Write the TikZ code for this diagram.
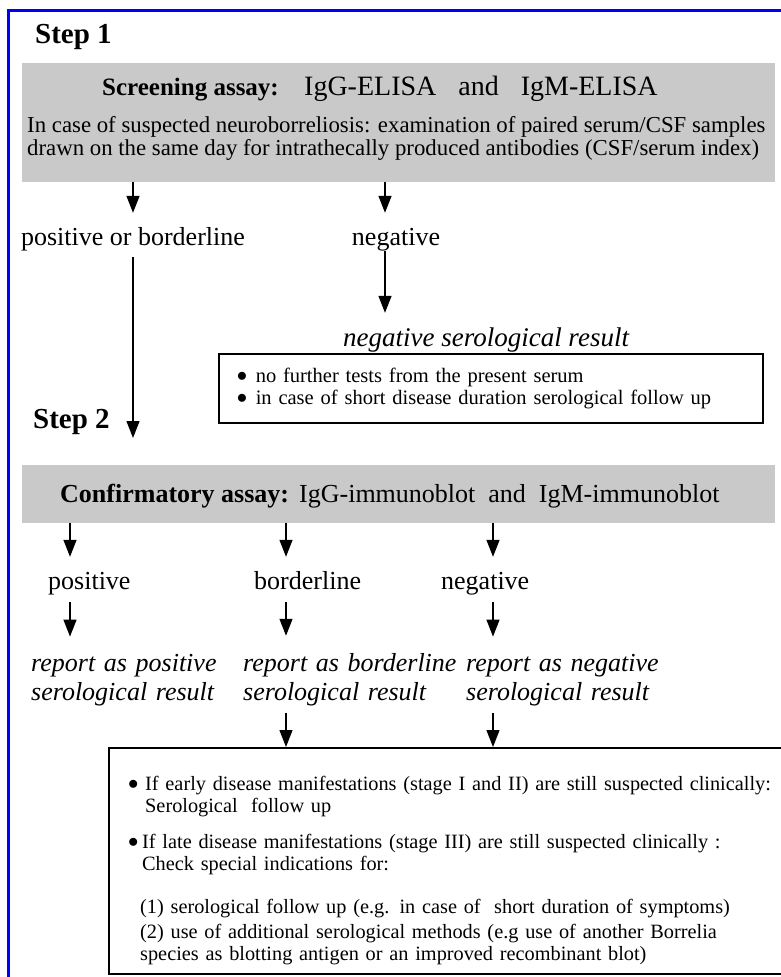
\documentclass[tikz,border=0pt]{standalone}
\usepackage{fontspec}
\setmainfont{Liberation Serif}
\usetikzlibrary{arrows.meta,positioning}

\definecolor{panelgrey}{RGB}{201,201,201}
\definecolor{frameblue}{RGB}{0,0,245}

\tikzset{
  flow/.style={line width=1.3pt, -{Triangle[length=17pt,width=13pt]}},
  greypanel/.style={fill=panelgrey, inner sep=0pt, anchor=north west},
  infobox/.style={draw, line width=1.5pt, inner sep=0pt, anchor=north west},
  lbl/.style={inner sep=0pt, font=\fontsize{26}{30}\selectfont, text height=18pt, text depth=6pt},
  result/.style={inner sep=0pt, font=\fontsize{26}{29}\selectfont\itshape, text width=230pt, align=left, anchor=base west},
  steplbl/.style={inner sep=0pt, font=\fontsize{29}{30}\selectfont\bfseries, anchor=base west},
  boxtext/.style={inner sep=0pt, font=\fontsize{20.3}{22}\selectfont, align=left},
}
\newcommand{\blt}{\raisebox{0.5pt}{$\bullet$}}

\begin{document}
\begin{tikzpicture}[x=1pt,y=-1pt]
    \useasboundingbox (0,0) rectangle (781,977);
    \clip (0,0) rectangle (781,977);
    \draw[frameblue, line width=3pt] (8,990) |- (790,10);

    % step 1: screening
    \node[steplbl] (step1) at (35,43) {Step 1};
    \node[greypanel, minimum width=753pt, minimum height=119pt] (screen) at (22,63) {};
    \node[anchor=base west, inner sep=0pt, font=\fontsize{25}{30}\selectfont\bfseries] (screentitle) at (102,95) {Screening assay:};
    \node[anchor=base west, inner sep=0pt, font=\fontsize{28}{30}\selectfont] (screentests) at (304,95) {IgG-ELISA\hspace{22pt}and\hspace{22pt}IgM-ELISA};
    \node[anchor=base west, inner sep=0pt, font=\fontsize{22.8}{24}\selectfont] (screenline1) at (27,132) {In case of suspected neuroborreliosis: examination of paired serum/CSF samples};
    \node[anchor=base west, inner sep=0pt, font=\fontsize{22.8}{24}\selectfont] (screenline2) at (27,155) {drawn on the same day for intrathecally produced antibodies (CSF/serum index)};

    \node[lbl, anchor=base] (posbord) at (133,245) {positive or borderline};
    \node[lbl, anchor=base] (neg1) at (396,245) {negative};
    \coordinate (colneg1) at (385,0);
    \draw[flow, shorten >=14pt] (screen.south -| posbord.north) -- (posbord.north);
    \draw[flow, shorten >=14pt] (colneg1 |- screen.south) -- (colneg1 |- neg1.north);

    \node[lbl, font=\fontsize{27}{30}\selectfont\itshape, anchor=base] (negres) at (486,346) {negative serological result};
    \draw[flow, shorten >=15pt] (colneg1 |- neg1.south) -- (colneg1 |- negres.north);
    \node[infobox, boxtext, font=\fontsize{20.5}{22}\selectfont, minimum height=69pt, text width=508pt, inner xsep=18pt] (negbox) at (218,353)
        {\makebox[19pt][l]{\blt}no further tests from the present serum\\
         \makebox[19pt][l]{\blt}in case of short disease duration serological follow up};

    % step 2: confirmation
    \node[steplbl] (step2) at (33,428) {Step 2};
    \node[greypanel, minimum width=753pt, minimum height=58pt] (confirm) at (22,465) {};
    \draw[flow, shorten <=6pt, shorten >=27pt] (posbord.south) -- (posbord.south |- confirm.north);
    \node[anchor=base west, inner sep=0pt, font=\fontsize{26}{30}\selectfont\bfseries] (conftitle) at (60,502) {Confirmatory assay:};
    \node[anchor=base west, inner sep=0pt, font=\fontsize{26}{30}\selectfont] (conftests) at (299,502) {IgG-immunoblot\ \ and\ \ IgM-immunoblot};

    \coordinate (colpos) at (70,0);
    \coordinate (colbord) at (286,0);
    \coordinate (colneg) at (493,0);
    \node[lbl, anchor=base west] (pos2) at (48,589) {positive};
    \node[lbl, anchor=base west] (bord2) at (254,589) {borderline};
    \node[lbl, anchor=base west] (neg2) at (441,589) {negative};
    \draw[flow, shorten >=14pt] (colpos |- confirm.south) -- (colpos |- pos2.north);
    \draw[flow, shorten >=14pt] (colbord |- confirm.south) -- (colbord |- bord2.north);
    \draw[flow, shorten >=14pt] (colneg |- confirm.south) -- (colneg |- neg2.north);

    \node[result] (respos) at (31,671) {report as positive\\serological result};
    \node[result] (resbord) at (243,671) {report as borderline\\serological result};
    \node[result] (resneg) at (466,671) {report as negative\\serological result};
    \draw[flow, shorten <=7pt, shorten >=17pt] (colpos |- pos2.south) -- (colpos |- respos.north);
    \draw[flow, shorten <=7pt, shorten >=17pt] (colbord |- bord2.south) -- (colbord |- resbord.north);
    \draw[flow, shorten <=7pt, shorten >=17pt] (colneg |- neg2.south) -- (colneg |- resneg.north);

    \node[infobox, minimum width=700pt, minimum height=226pt] (followbox) at (108,747) {};
    \draw[flow, shorten <=7pt] (colbord |- resbord.south) -- (colbord |- followbox.north);
    \draw[flow, shorten <=7pt] (colneg |- resneg.south) -- (colneg |- followbox.north);
    \node[boxtext, text width=720pt, anchor=base west] (followtext) at (128,790)
        {\makebox[17pt][l]{\blt}If early disease manifestations (stage I and II) are still suspected clinically:\\
         \hspace*{17pt}Serological\ \ follow up\\[14pt]
         \makebox[14pt][l]{\blt}If late disease manifestations (stage III) are still suspected clinically :\\
         \hspace*{14pt}Check special indications for:\\[21pt]
         \hspace*{12pt}(1) serological follow up (e.g. in case of\ \ short duration of symptoms)\\[3pt]
         \hspace*{12pt}(2) use of additional serological methods (e.g use of another Borrelia\\
         \hspace*{12pt}species as blotting antigen or an improved recombinant blot)};
\end{tikzpicture}
\end{document}
